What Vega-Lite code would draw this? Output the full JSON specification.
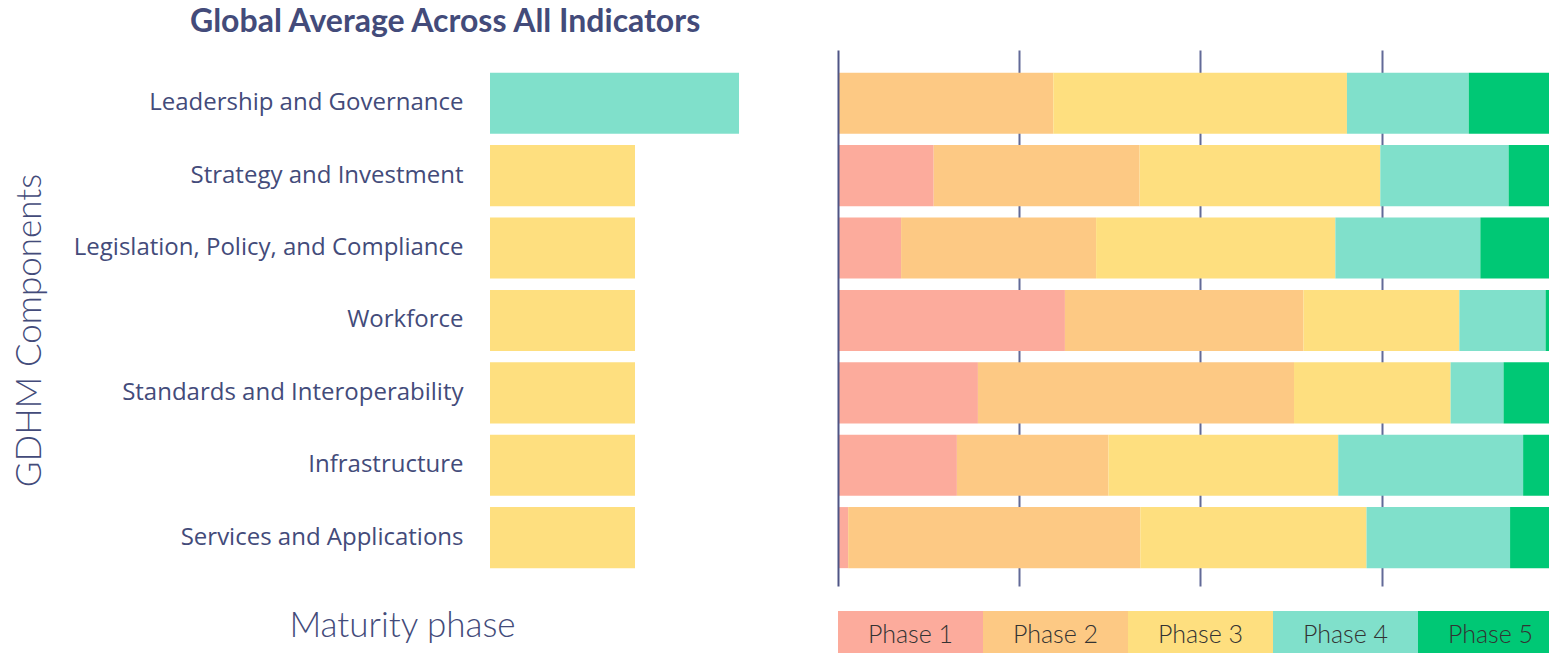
{
  "$schema": "https://vega.github.io/schema/vega-lite/v6.json",
  "background": "white",
  "padding": {"left": 12, "top": 6, "right": 0, "bottom": 0},
  "config": {"font": "Open Sans", "view": {"stroke": null}},
  "title": {"text": "Global Average Across All Indicators", "anchor": "start", "font": "Lato", "fontSize": 32, "fontWeight": "bold", "color": "#434B7A", "dx": 178, "offset": 11},
  "datasets": {
    "avg": [
      {"component": "Leadership and Governance", "level": 4, "phase": "Phase 4"},
      {"component": "Strategy and Investment", "level": 3, "phase": "Phase 3"},
      {"component": "Legislation, Policy, and Compliance", "level": 3, "phase": "Phase 3"},
      {"component": "Workforce", "level": 3, "phase": "Phase 3"},
      {"component": "Standards and Interoperability", "level": 3, "phase": "Phase 3"},
      {"component": "Infrastructure", "level": 3, "phase": "Phase 3"},
      {"component": "Services and Applications", "level": 3, "phase": "Phase 3"}
    ],
    "dist": [
      {"component": "Leadership and Governance", "phase": "Phase 1", "pct": 0},
      {"component": "Leadership and Governance", "phase": "Phase 2", "pct": 29.7},
      {"component": "Leadership and Governance", "phase": "Phase 3", "pct": 40.5},
      {"component": "Leadership and Governance", "phase": "Phase 4", "pct": 16.8},
      {"component": "Leadership and Governance", "phase": "Phase 5", "pct": 13.0},
      {"component": "Strategy and Investment", "phase": "Phase 1", "pct": 13.2},
      {"component": "Strategy and Investment", "phase": "Phase 2", "pct": 28.4},
      {"component": "Strategy and Investment", "phase": "Phase 3", "pct": 33.2},
      {"component": "Strategy and Investment", "phase": "Phase 4", "pct": 17.7},
      {"component": "Strategy and Investment", "phase": "Phase 5", "pct": 7.5},
      {"component": "Legislation, Policy, and Compliance", "phase": "Phase 1", "pct": 8.7},
      {"component": "Legislation, Policy, and Compliance", "phase": "Phase 2", "pct": 26.9},
      {"component": "Legislation, Policy, and Compliance", "phase": "Phase 3", "pct": 33.0},
      {"component": "Legislation, Policy, and Compliance", "phase": "Phase 4", "pct": 20.0},
      {"component": "Legislation, Policy, and Compliance", "phase": "Phase 5", "pct": 11.4},
      {"component": "Workforce", "phase": "Phase 1", "pct": 31.3},
      {"component": "Workforce", "phase": "Phase 2", "pct": 32.9},
      {"component": "Workforce", "phase": "Phase 3", "pct": 21.5},
      {"component": "Workforce", "phase": "Phase 4", "pct": 11.9},
      {"component": "Workforce", "phase": "Phase 5", "pct": 2.4},
      {"component": "Standards and Interoperability", "phase": "Phase 1", "pct": 19.3},
      {"component": "Standards and Interoperability", "phase": "Phase 2", "pct": 43.6},
      {"component": "Standards and Interoperability", "phase": "Phase 3", "pct": 21.6},
      {"component": "Standards and Interoperability", "phase": "Phase 4", "pct": 7.3},
      {"component": "Standards and Interoperability", "phase": "Phase 5", "pct": 8.2},
      {"component": "Infrastructure", "phase": "Phase 1", "pct": 16.4},
      {"component": "Infrastructure", "phase": "Phase 2", "pct": 20.9},
      {"component": "Infrastructure", "phase": "Phase 3", "pct": 31.7},
      {"component": "Infrastructure", "phase": "Phase 4", "pct": 25.5},
      {"component": "Infrastructure", "phase": "Phase 5", "pct": 5.5},
      {"component": "Services and Applications", "phase": "Phase 1", "pct": 1.4},
      {"component": "Services and Applications", "phase": "Phase 2", "pct": 40.3},
      {"component": "Services and Applications", "phase": "Phase 3", "pct": 31.2},
      {"component": "Services and Applications", "phase": "Phase 4", "pct": 19.8},
      {"component": "Services and Applications", "phase": "Phase 5", "pct": 7.3}
    ],
    "phases": [
      {"phase": "Phase 1"},
      {"phase": "Phase 2"},
      {"phase": "Phase 3"},
      {"phase": "Phase 4"},
      {"phase": "Phase 5"}
    ]
  },
  "hconcat": [
    {
      "width": 300,
      "height": 536,
      "data": {"name": "avg"},
      "mark": {"type": "bar"},
      "encoding": {
        "y": {
          "field": "component", "type": "nominal", "sort": null,
          "scale": {"paddingInner": 0.156, "paddingOuter": 0.28, "align": 0.56},
          "axis": {
            "title": "GDHM Components", "domain": false, "ticks": false,
            "labelFont": "Open Sans", "labelFontSize": 24, "labelFontWeight": 500, "labelColor": "#434B7A", "labelPadding": 27, "labelLimit": 600,
            "minExtent": 440, "maxExtent": 440,
            "titleFont": "Lato", "titleFontSize": 35, "titleFontWeight": 300, "titleColor": "#434B7A", "titlePadding": 3,
            "titleY": 280, "titleAnchor": null, "titleAlign": "center"
          }
        },
        "x": {
          "field": "level", "type": "quantitative",
          "scale": {"domain": [1.606, 4.49], "zero": false, "nice": false},
          "axis": {
            "title": "Maturity phase", "labels": false, "ticks": false, "domain": false, "grid": false,
            "titleFont": "Lato", "titleFontSize": 35, "titleFontWeight": 300, "titleColor": "#434B7A",
            "titleX": -88, "titleAlign": "center", "titleAnchor": null, "titlePadding": 22
          }
        },
        "x2": {"datum": 1.606},
        "color": {
          "field": "phase", "type": "nominal",
          "scale": {"domain": ["Phase 1", "Phase 2", "Phase 3", "Phase 4", "Phase 5"], "range": ["#FCAB9C", "#FDC984", "#FEDF7F", "#80E0CB", "#00C875"]},
          "legend": null
        }
      }
    },
    {
      "spacing": 25,
      "vconcat": [
        {
          "width": 711,
          "height": 536,
          "data": {"name": "dist"},
          "mark": {"type": "bar", "clip": true},
          "encoding": {
            "y": {
              "field": "component", "type": "nominal", "sort": null,
              "scale": {"paddingInner": 0.156, "paddingOuter": 0.28, "align": 0.56},
              "axis": {"title": null, "labels": false, "ticks": false, "domain": true, "domainColor": "#4E5585", "domainWidth": 2, "zindex": 1}
            },
            "x": {
              "field": "pct", "type": "quantitative", "stack": "zero",
              "scale": {"domain": [0, 98.07], "nice": false},
              "axis": {"title": null, "labels": false, "ticks": false, "domain": false, "grid": true, "gridColor": "#626A98", "gridWidth": 2, "values": [25, 50, 75]}
            },
            "color": {
              "field": "phase", "type": "nominal",
              "scale": {"domain": ["Phase 1", "Phase 2", "Phase 3", "Phase 4", "Phase 5"], "range": ["#FCAB9C", "#FDC984", "#FEDF7F", "#80E0CB", "#00C875"]},
              "legend": null
            },
            "order": {"field": "phase", "type": "nominal", "sort": "ascending"}
          }
        },
        {
          "width": 711,
          "height": 42,
          "data": {"name": "phases"},
          "encoding": {
            "x": {"field": "phase", "type": "nominal", "scale": {"range": [0, 725], "paddingInner": 0, "paddingOuter": 0}, "axis": null}
          },
          "layer": [
            {
              "mark": {"type": "bar", "clip": true},
              "encoding": {
                "color": {
                  "field": "phase", "type": "nominal",
                  "scale": {"domain": ["Phase 1", "Phase 2", "Phase 3", "Phase 4", "Phase 5"], "range": ["#FCAB9C", "#FDC984", "#FEDF7F", "#80E0CB", "#00C875"]},
                  "legend": null
                }
              }
            },
            {
              "mark": {"type": "text", "font": "Lato", "fontSize": 25, "fontWeight": 300, "color": "#333333", "dy": 3},
              "encoding": {"text": {"field": "phase"}}
            }
          ]
        }
      ]
    }
  ],
  "spacing": 48
}
